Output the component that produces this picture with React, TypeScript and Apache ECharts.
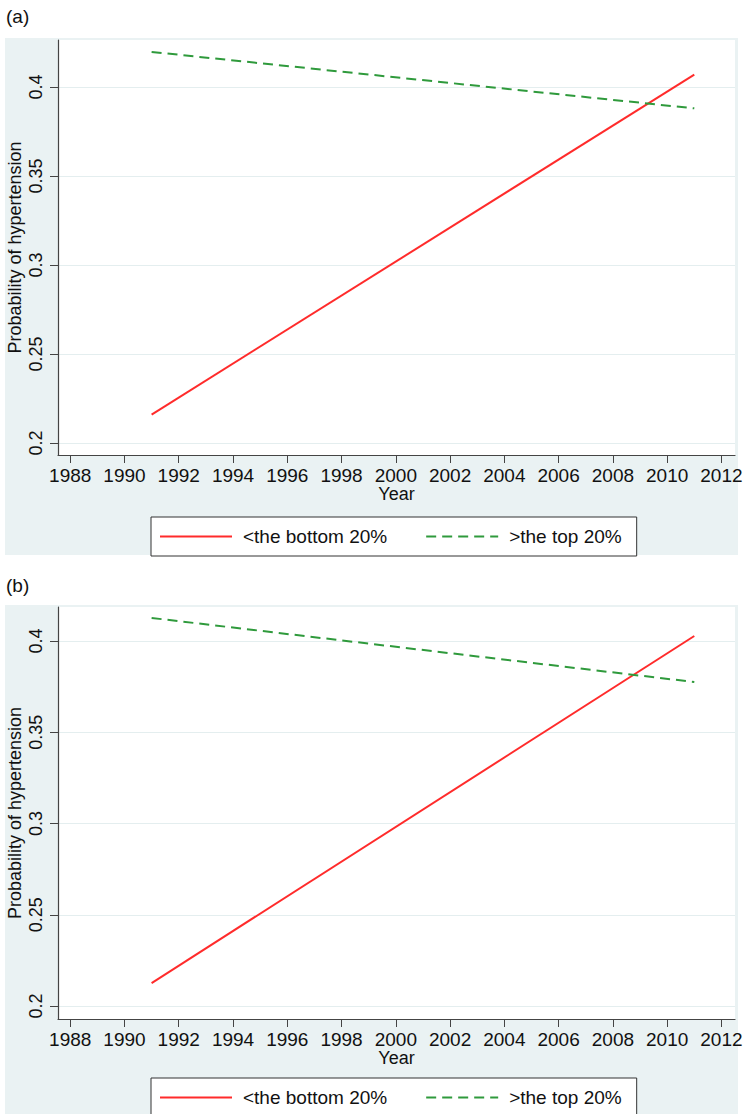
import React, { useEffect, useRef } from "react";
import * as echarts from "echarts";

const years = [1991, 2011];
const bottomA = [0.216, 0.407];
const topA = [0.4197, 0.388];
const bottomB = [0.2126, 0.4027];
const topB = [0.4126, 0.3775];
const xTicks = [1988, 1990, 1992, 1994, 1996, 1998, 2000, 2002, 2004, 2006, 2008, 2010, 2012];
const yTicks = [0.2, 0.25, 0.3, 0.35, 0.4];
const nameBottom = "<the bottom 20%";
const nameTop = ">the top 20%";

const FONT = "Liberation Sans";
const BG = "#eaf2f3";
const RED = "#ff2b2b";
const GREEN = "#2f9a3c";

function xAxisCfg(gridIndex: number) {
  return {
    type: "value",
    gridIndex,
    min: 1987.55,
    max: 2012.5,
    name: "Year",
    nameLocation: "middle",
    nameGap: 30,
    nameMoveOverlap: false,
    nameTextStyle: { fontFamily: FONT, fontSize: 18, color: "#111" },
    axisLine: { show: true, lineStyle: { color: "#444", width: 1.2 } },
    axisTick: { show: true, length: 8, customValues: xTicks, lineStyle: { color: "#444" } },
    axisLabel: {
      customValues: xTicks,
      margin: 11,
      fontFamily: FONT,
      fontSize: 19,
      color: "#111",
      formatter: (v: number) => String(Math.round(v)),
    },
    splitLine: { show: false },
  };
}

function yAxisCfg(gridIndex: number, min: number, max: number) {
  return {
    type: "value",
    gridIndex,
    min,
    max,
    name: "Probability of hypertension",
    nameLocation: "middle",
    nameRotate: 90,
    nameGap: 34,
    nameMoveOverlap: false,
    nameTextStyle: { fontFamily: FONT, fontSize: 18, color: "#111" },
    axisLine: { show: true, lineStyle: { color: "#444", width: 1.2 } },
    axisTick: { show: true, length: 8, customValues: yTicks, lineStyle: { color: "#444" } },
    axisLabel: {
      customValues: yTicks,
      rotate: 90,
      margin: 13,
      fontFamily: FONT,
      fontSize: 18,
      color: "#111",
      formatter: (v: number) => String(+v.toFixed(2)),
    },
    splitLine: { show: true, lineStyle: { color: "#e4eeef", width: 1 } },
  };
}

function lineSeries(name: string, vals: number[], idx: number, color: string, dashed: boolean) {
  return {
    type: "line",
    name,
    xAxisIndex: idx,
    yAxisIndex: idx,
    data: years.map((y, i) => [y, vals[i]]),
    symbol: "none",
    lineStyle: { color, width: 2, type: dashed ? [10, 6] : "solid" },
    itemStyle: { color },
  };
}

function legendCfg(top: number) {
  return {
    left: 151,
    top,
    orient: "horizontal",
    data: [nameBottom, nameTop],
    itemWidth: 72,
    itemHeight: 14,
    itemGap: 38,
    padding: [10, 15, 10, 8],
    backgroundColor: "#fff",
    borderColor: "#333",
    borderWidth: 1,
    borderRadius: 0,
    selectedMode: false,
    itemStyle: { opacity: 0 },
    textStyle: { fontFamily: FONT, fontSize: 19, color: "#111", padding: [0, 0, 0, 6] },
  };
}

export default function App() {
  const ref = useRef<HTMLDivElement>(null);
  useEffect(() => {
    if (!ref.current) return;
    const chart = echarts.init(ref.current, null, { renderer: "svg" });
    chart.setOption({
      animation: false,
      backgroundColor: "#fff",
      graphic: [
        { type: "rect", z: -10, shape: { x: 5, y: 38, width: 733, height: 517 }, style: { fill: BG } },
        { type: "rect", z: -10, shape: { x: 5, y: 605, width: 733, height: 520 }, style: { fill: BG } },
        { type: "rect", z: -9, shape: { x: 58, y: 40, width: 677, height: 415 }, style: { fill: "#fff" } },
        { type: "rect", z: -9, shape: { x: 58, y: 607, width: 677, height: 412 }, style: { fill: "#fff" } },
        { type: "text", left: 6, top: 7, style: { text: "(a)", fontFamily: FONT, fontSize: 19, fill: "#111" } },
        { type: "text", left: 6, top: 576, style: { text: "(b)", fontFamily: FONT, fontSize: 19, fill: "#111" } },
      ],
      grid: [
        { left: 58, top: 40, width: 677, height: 415, containLabel: false, outerBoundsMode: "none" },
        { left: 58, top: 607, width: 677, height: 412, containLabel: false, outerBoundsMode: "none" },
      ],
      xAxis: [xAxisCfg(0), xAxisCfg(1)],
      yAxis: [yAxisCfg(0, 0.1933, 0.4264), yAxisCfg(1, 0.1929, 0.4186)],
      legend: [legendCfg(517), legendCfg(1078)],
      series: [
        lineSeries(nameBottom, bottomA, 0, RED, false),
        lineSeries(nameTop, topA, 0, GREEN, true),
        lineSeries(nameBottom, bottomB, 1, RED, false),
        lineSeries(nameTop, topB, 1, GREEN, true),
      ],
    });
    return () => chart.dispose();
  }, []);
  return <div ref={ref} style={{ position: "absolute", left: 0, top: 0, width: 743, height: 1114 }} />;
}
